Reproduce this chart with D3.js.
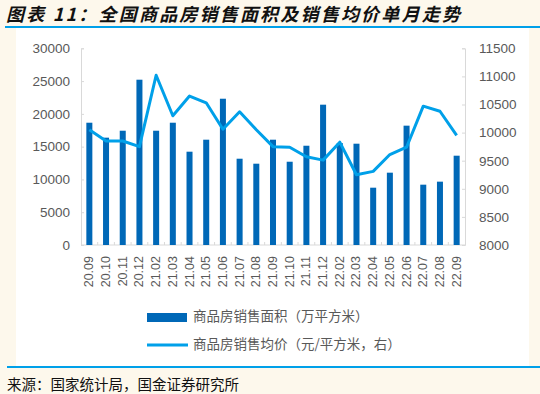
<!DOCTYPE html>
<html>
<head>
<meta charset="utf-8">
<script src="https://cdn.jsdelivr.net/npm/d3@7"></script>
<style>
  html, body { margin: 0; padding: 0; background: #fdf8ec; }
  svg { display: block; }
</style>
</head>
<body>
<div id="chart"></div>
<script>
const months = ["20.09","20.10","20.11","20.12","21.02","21.03","21.04","21.05","21.06","21.07","21.08","21.09",
  "21.10","21.11","21.12","22.02","22.03","22.04","22.05","22.06","22.07","22.08","22.09"]
// 商品房销售面积（万平方米）
const area = [18650,16370,17430,25210,17430,18650,14230,16060,22310,13160,12400,16060,
  12700,15140,21400,15550,15450,8740,11030,18200,9200,9660,13620]
// 商品房销售均价（元/平方米）
const price = [10050,9850,9850,9750,11020,10300,10650,10530,10060,10370,10050,9750,
  9740,9570,9510,9830,9250,9310,9610,9740,10470,10380,9950]
const leftTicks = [0,5000,10000,15000,20000,25000,30000]
const rightTicks = [8000,8500,9000,9500,10000,10500,11000,11500]

const width = 540, height = 394
const barColor = "#0068b7", lineColor = "#00a0e9", axisColor = "#d9d9d9", textColor = "#595959"
const cjk = "'Noto Sans CJK SC', sans-serif"
const num = "'Liberation Sans', Arial, sans-serif"

const svg = d3.select("#chart").append("svg")
  .attr("width", width)
  .attr("height", height)

// Background + white panel
svg.append("rect").attr("width", width).attr("height", height).attr("fill", "#fdf8ec")
svg.append("rect").attr("x", 16).attr("y", 28).attr("width", 513).attr("height", 338).attr("fill", "#fff")

// Title and rules
svg.append("text")
  .attr("x", 6).attr("y", 21)
  .attr("font-family", cjk).attr("font-size", 18).attr("font-weight", "bold").attr("font-style", "italic")
  .attr("letter-spacing", 2.2)
  .attr("fill", "#111")
  .text("图表 11：全国商品房销售面积及销售均价单月走势")

svg.append("line").attr("x1", 5).attr("x2", width).attr("y1", 27).attr("y2", 27)
  .attr("stroke", lineColor).attr("stroke-width", 2)
svg.append("line").attr("x1", 7).attr("x2", width).attr("y1", 367).attr("y2", 367)
  .attr("stroke", lineColor).attr("stroke-width", 2)

svg.append("text")
  .attr("x", 7).attr("y", 390)
  .attr("font-family", cjk).attr("font-size", 14.5)
  .attr("fill", "#111")
  .text("来源：国家统计局，国金证券研究所")

// Scales
const x = d3.scaleBand().domain(months).range([81, 465]).paddingInner(0.64).paddingOuter(0.32)
const yL = d3.scaleLinear().domain([0, 30000]).range([245, 48.3])
const yR = d3.scaleLinear().domain([8000, 11500]).range([245, 48.3])

// Axes
const axL = svg.append("g").attr("transform", "translate(81,0)")
  .call(d3.axisLeft(yL).tickValues(leftTicks).tickSize(-3).tickPadding(11).tickFormat(d3.format("d")))
const axR = svg.append("g").attr("transform", "translate(465,0)")
  .call(d3.axisRight(yR).tickValues(rightTicks).tickSize(-3).tickPadding(14).tickFormat(d3.format("d")))
for (const ax of [axL, axR]) {
  ax.select(".domain").attr("stroke", axisColor)
  ax.selectAll(".tick line").attr("stroke", axisColor)
  ax.selectAll(".tick text").attr("font-family", num).attr("font-size", 13.5).attr("fill", textColor)
}

// Bottom axis line + category boundary ticks
svg.append("line").attr("x1", 81).attr("x2", 465).attr("y1", 245).attr("y2", 245)
  .attr("stroke", axisColor)
svg.append("g").selectAll("line")
  .data(months.slice(1))
  .join("line")
  .attr("x1", d => x(d) - x.step() * x.paddingInner() / 2)
  .attr("x2", d => x(d) - x.step() * x.paddingInner() / 2)
  .attr("y1", 245).attr("y2", 242)
  .attr("stroke", axisColor)

// Bars
svg.append("g").selectAll("rect")
  .data(area)
  .join("rect")
  .attr("x", (d, i) => x(months[i]))
  .attr("y", d => yL(d))
  .attr("width", x.bandwidth())
  .attr("height", d => yL(0) - yL(d))
  .attr("fill", barColor)

// Price line
const line = d3.line()
  .x((d, i) => x(months[i]) + x.bandwidth() / 2)
  .y(d => yR(d))
svg.append("path")
  .datum(price)
  .attr("d", line)
  .attr("fill", "none")
  .attr("stroke", lineColor)
  .attr("stroke-width", 3)
  .attr("stroke-linejoin", "round")

// X labels, rotated
svg.append("g").selectAll("text")
  .data(months)
  .join("text")
  .attr("transform", d => `translate(${x(d) + x.bandwidth() / 2 + 4},256) rotate(-90)`)
  .attr("text-anchor", "end")
  .attr("font-family", num).attr("font-size", 12.5)
  .attr("fill", textColor)
  .text(d => d)

// Legend
svg.append("rect").attr("x", 147).attr("y", 313).attr("width", 40).attr("height", 9).attr("fill", barColor)
svg.append("line").attr("x1", 147).attr("x2", 188).attr("y1", 345).attr("y2", 345)
  .attr("stroke", lineColor).attr("stroke-width", 3)
svg.append("text").attr("x", 193).attr("y", 317.5).attr("dominant-baseline", "middle")
  .attr("font-family", cjk).attr("font-size", 13.5).attr("fill", textColor)
  .text("商品房销售面积（万平方米）")
svg.append("text").attr("x", 193).attr("y", 345).attr("dominant-baseline", "middle")
  .attr("font-family", cjk).attr("font-size", 13.5).attr("fill", textColor)
  .text("商品房销售均价（元/平方米，右）")
</script>
</body>
</html>
